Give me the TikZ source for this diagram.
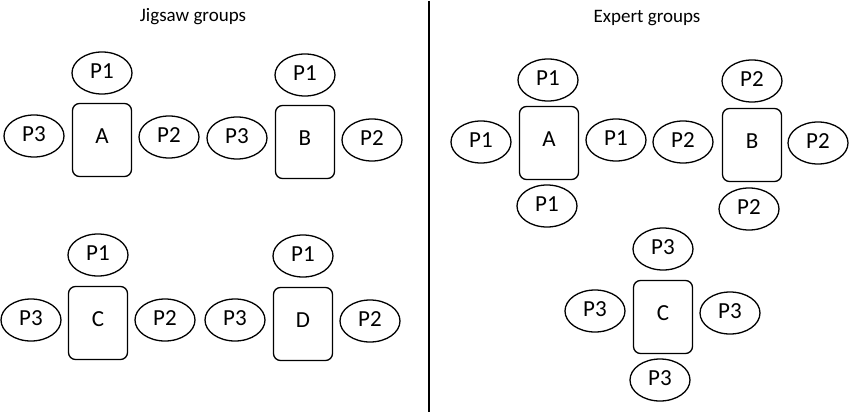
\documentclass[tikz,border=0pt]{standalone}
\usepackage{fontspec}
\setmainfont{Carlito}
\usetikzlibrary{shapes.geometric}
\tikzset{
  member/.style={draw, line width=1.3pt, ellipse, minimum width=60pt, minimum height=42pt, inner sep=0pt, font=\fontsize{23}{23}\selectfont},
  group/.style={draw, line width=1.3pt, rounded corners=7pt, minimum width=59pt, minimum height=73pt, inner sep=0pt, font=\fontsize{23}{23}\selectfont},
  heading/.style={font=\fontsize{19}{19}\selectfont, inner sep=0pt},
  divider/.style={line width=1.3pt}
}
\newcommand{\up}[1]{\raisebox{3pt}{#1}}
\newcommand{\upbox}[1]{\raisebox{8pt}{#1}}
\begin{document}
\begin{tikzpicture}[x=1pt,y=-1pt]
\useasboundingbox (0,0) rectangle (850,414);
% headings
\node[heading] (hj) at (193,17) {Jigsaw groups};
\node[heading] (he) at (647,18) {Expert groups};
% divider
\coordinate (dtop) at (429,1);
\coordinate (dbot) at (429,412);
\draw[divider] (dtop) -- (dbot);
% Jigsaw A
\node[group] (jA) at (102,140) {\upbox{A}};
\node[member] (jA1) at (102,73) {\up{P1}};
\node[member] (jA3) at (34,136) {\up{P3}};
\node[member] (jA2) at (169,137) {\up{P2}};
% Jigsaw B
\node[group] (jB) at (305,142) {\upbox{B}};
\node[member] (jB1) at (305,75) {\up{P1}};
\node[member] (jB3) at (237,138) {\up{P3}};
\node[member] (jB2) at (372,140) {\up{P2}};
% Jigsaw C
\node[group] (jC) at (98,323) {\upbox{C}};
\node[member] (jC1) at (98,255) {\up{P1}};
\node[member] (jC3) at (31,320) {\up{P3}};
\node[member] (jC2) at (165,320) {\up{P2}};
% Jigsaw D
\node[group] (jD) at (303,324) {\upbox{D}};
\node[member] (jD1) at (303,256) {\up{P1}};
\node[member] (jD3) at (235,320) {\up{P3}};
\node[member] (jD2) at (370,321) {\up{P2}};
% Expert A
\node[group] (eA) at (549,143) {\upbox{A}};
\node[member] (eA1) at (548,80) {\up{P1}};
\node[member] (eAl) at (481,142) {\up{P1}};
\node[member] (eAr) at (616,140) {\up{P1}};
\node[member] (eAb) at (547,206) {\up{P1}};
% Expert B
\node[group] (eB) at (752,145) {\upbox{B}};
\node[member] (eB1) at (752,81) {\up{P2}};
\node[member] (eBl) at (683,142) {\up{P2}};
\node[member] (eBr) at (818,143) {\up{P2}};
\node[member] (eBb) at (749,209) {\up{P2}};
% Expert C
\node[group] (eC) at (663,317) {\upbox{C}};
\node[member] (eC1) at (663,249) {\up{P3}};
\node[member] (eCl) at (595,311) {\up{P3}};
\node[member] (eCr) at (730,313) {\up{P3}};
\node[member] (eCb) at (660,380) {\up{P3}};
\end{tikzpicture}
\end{document}
